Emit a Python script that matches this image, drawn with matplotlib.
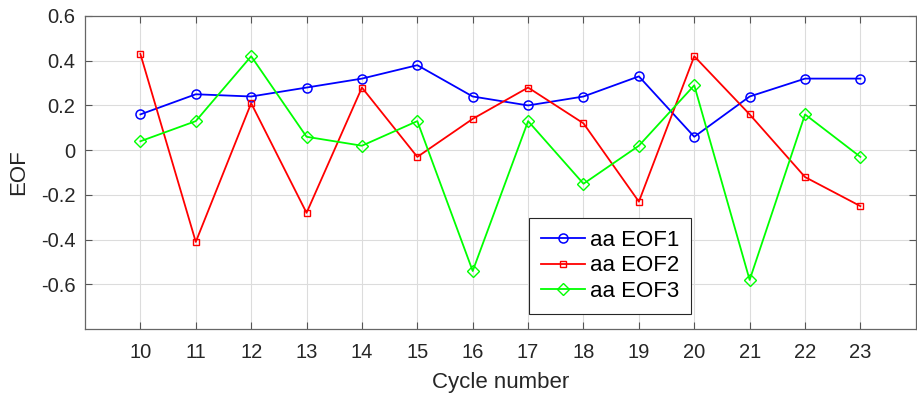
import numpy as np
import matplotlib
matplotlib.use('Agg')
import matplotlib.pyplot as plt

plt.rcParams['font.family'] = ['Liberation Sans', 'DejaVu Sans']

# solar cycles and EOF loadings
cycles = list(range(10, 24))
eof1 = [0.16, 0.25, 0.24, 0.28, 0.32, 0.38, 0.24, 0.20, 0.24, 0.33, 0.06, 0.24, 0.32, 0.32]
eof2 = [0.43, -0.41, 0.21, -0.28, 0.28, -0.03, 0.14, 0.28, 0.12, -0.23, 0.42, 0.16, -0.12, -0.25]
eof3 = [0.04, 0.13, 0.42, 0.06, 0.02, 0.13, -0.54, 0.13, -0.15, 0.02, 0.29, -0.58, 0.16, -0.03]
yticks = [-0.6, -0.4, -0.2, 0, 0.2, 0.4, 0.6]
ytick_labels = ['-0.6', '-0.4', '-0.2', '0', '0.2', '0.4', '0.6']

fig = plt.figure(figsize=(9.17, 3.99), dpi=100)
ax = fig.add_axes([0.0927, 0.175, 0.906, 0.785])

ax.plot(cycles, eof1, color='#0000ff', marker='o', markersize=6.5, mfc='none', lw=1.3, mew=1.1, label='aa EOF1')
ax.plot(cycles, eof2, color='#ff0000', marker='s', markersize=5, mfc='none', lw=1.3, mew=1.0, label='aa EOF2')
ax.plot(cycles, eof3, color='#00ff00', marker='D', markersize=6, mfc='none', lw=1.3, mew=1.0, label='aa EOF3')

ax.set_xlim(9, 24)
ax.set_ylim(-0.8, 0.6)
ax.set_xticks(cycles)
ax.set_yticks(yticks)
ax.set_yticklabels(ytick_labels)
ax.grid(True, color='#dcdcdc', lw=0.8)
ax.set_axisbelow(True)
ax.tick_params(direction='in', top=True, right=True, length=5, width=0.8,
               color='#555555', labelcolor='#262626', labelsize=14.5)
ax.tick_params(axis='x', pad=10)
ax.tick_params(axis='y', pad=7)
for s in ax.spines.values():
    s.set_color('#666666')
    s.set_linewidth(0.9)

ax.set_xlabel('Cycle number', fontsize=16, color='#262626', labelpad=7)
ax.set_ylabel('EOF', fontsize=16, color='#262626', labelpad=8)

leg = ax.legend(loc='lower left', bbox_to_anchor=(0.534, 0.048), fontsize=16,
                fancybox=False, framealpha=1, edgecolor='#262626', borderaxespad=0,
                handlelength=2.0, handletextpad=0.2, borderpad=0.55, labelspacing=0.2)
leg.get_frame().set_linewidth(0.8)

fig.savefig('out.png', dpi=100)
